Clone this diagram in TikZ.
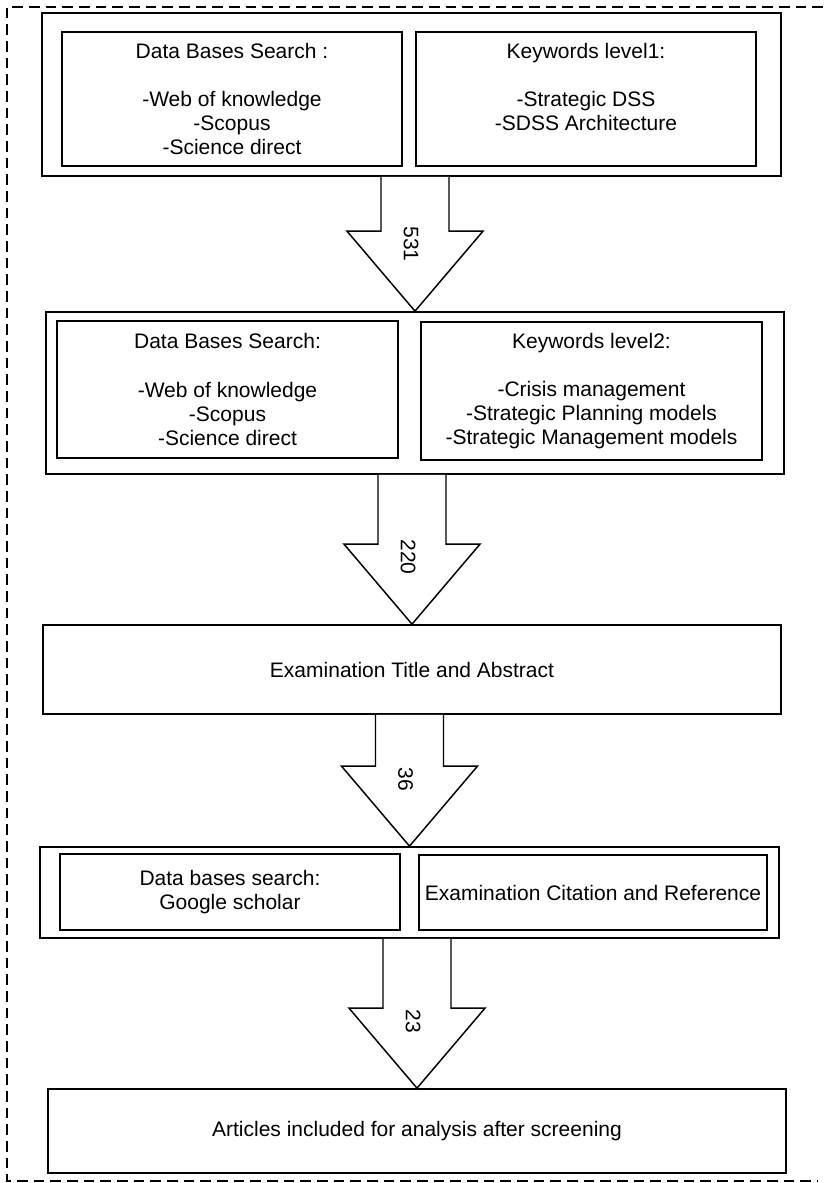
\documentclass[tikz,border=0pt]{standalone}
\usepackage{fontspec}
\setmainfont{Liberation Sans}
\usetikzlibrary{calc}

% fat block arrow from one block to the next, with its count
\newcommand{\fatarrow}[3]{%
  \coordinate (tip) at (#2.north);
  \draw[fat] ($(#1.south -| tip)+(-34,0)$) -- ($(tip)+(-34,-80)$) -- ($(tip)+(-68,-80)$) -- (tip)
    -- ($(tip)+(68,-80)$) -- ($(tip)+(34,-80)$) -- ($(#1.south -| tip)+(34,0)$);
  \node[txt, rotate=-90] (N#3) at ($(tip)+(-4,-67)$) {#3};
}

\begin{document}
\begin{tikzpicture}[x=0.75pt, y=-0.75pt]
\tikzstyle{txt}=[font=\fontsize{15.75}{18}\selectfont, inner sep=0pt]
\tikzstyle{outer}=[draw, line width=1.3pt, inner sep=0pt]
\tikzstyle{box}=[txt, draw, line width=1.3pt, align=center]
\tikzstyle{fat}=[draw, line width=1.1pt, line join=miter, fill=white]
\useasboundingbox (0,0) rectangle (828,1183);
\draw[line width=1.1pt, dash pattern=on 8pt off 4.5pt] (823,7) -- (7,7) -- (7,1181) -- (818,1181);

\node[outer, minimum width=554.25pt, minimum height=122.25pt] (B1) at (411.5,94.5) {};
\node[box, minimum width=255pt, minimum height=100.5pt] (D1) at (232,99)
  {Data Bases Search :\\[18.5pt] -Web of knowledge\\ -Scopus\\ -Science direct};
\node[box, minimum width=255pt, minimum height=100.5pt] (K1) at (586,99)
  {Keywords level1:\\[18.5pt] -Strategic DSS\\ -SDSS Architecture\\ \mbox{}};

\node[outer, minimum width=553.5pt, minimum height=121.5pt] (B2) at (415,393) {};
\node[box, minimum width=255.75pt, minimum height=102.75pt] (D2) at (227.5,389.5)
  {Data Bases Search:\\[18.5pt] -Web of knowledge\\ -Scopus\\ -Science direct};
\node[box, minimum width=255.75pt, minimum height=103.5pt] (K2) at (591.5,391)
  {Keywords level2:\\[18.5pt] -Crisis management\\ -Strategic Planning models\\ -Strategic Management models};

\node[box, minimum width=553.5pt, minimum height=66.75pt] (B3) at (412,669.5)
  {Examination Title and Abstract};

\node[outer, minimum width=554.25pt, minimum height=68.25pt] (B4) at (409.5,892.5) {};
\node[box, minimum width=255pt, minimum height=57pt] (D4) at (230,892)
  {Data bases search:\\ Google scholar};
\node[box, minimum width=261pt, minimum height=56.25pt] (C4) at (593,892.5)
  {Examination Citation and Reference};

\node[box, minimum width=553.5pt, minimum height=63pt] (B5) at (417,1131)
  {Articles included for analysis after screening};

\fatarrow{B1}{B2}{531}
\fatarrow{B2}{B3}{220}
\fatarrow{B3}{B4}{36}
\fatarrow{B4}{B5}{23}
\end{tikzpicture}
\end{document}
